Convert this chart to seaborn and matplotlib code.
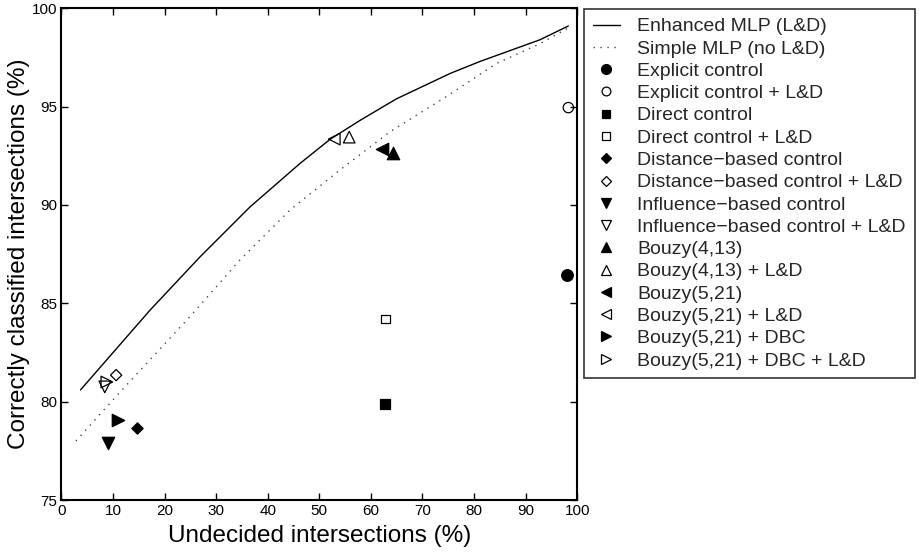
import matplotlib
matplotlib.use("Agg")
import matplotlib.pyplot as plt
import seaborn as sns
from matplotlib.lines import Line2D

# ---- data ----
enh_x = [3.7, 17.2, 26.9, 36.6, 46.3, 52.1, 57.9, 62.4, 65.0, 75.4, 81.2, 92.8, 98.3]
enh_y = [80.6, 84.66, 87.37, 89.91, 92.12, 93.34, 94.3, 95.0, 95.4, 96.69, 97.3, 98.4, 99.1]
simp_x = [2.8, 10.7, 24.9, 34.6, 44.3, 54.0, 63.7, 74.4, 84.4, 92.8, 98.3]
simp_y = [78.0, 80.3, 84.32, 87.2, 89.74, 91.78, 93.72, 95.47, 97.2, 98.2, 99.0]

labels = ["Explicit control", "Explicit control + L&D",
          "Direct control", "Direct control + L&D",
          "Distance\u2212based control", "Distance\u2212based control + L&D",
          "Influence\u2212based control", "Influence\u2212based control + L&D",
          "Bouzy(4,13)", "Bouzy(4,13) + L&D",
          "Bouzy(5,21)", "Bouzy(5,21) + L&D",
          "Bouzy(5,21) + DBC", "Bouzy(5,21) + DBC + L&D"]
pt_x = [98.0, 98.3, 62.8, 62.8, 14.6, 10.6, 9.1, 8.4, 64.2, 55.8, 62.1, 52.9, 11.0, 8.8]
pt_y = [86.45, 94.95, 79.9, 84.2, 78.65, 81.35, 77.9, 80.75, 92.65, 93.45, 92.85, 93.35, 79.05, 81.0]
markers = ["o", "o", "s", "s", "D", "D", "v", "v", "^", "^", "<", "<", ">", ">"]
filled = [True, False] * 7
sizes = [70, 55, 45, 40, 33, 33, 80, 70, 80, 70, 80, 70, 80, 70]

xticks = list(range(0, 101, 10))
yticks = [75, 80, 85, 90, 95, 100]

sns.set_theme(style="white")
plt.rcParams["font.family"] = ["Liberation Sans", "DejaVu Sans"]
plt.rcParams["xtick.direction"] = "in"
plt.rcParams["ytick.direction"] = "in"

fig = plt.figure(figsize=(9.19, 5.52), dpi=100)
ax = fig.add_axes([0.0669, 0.0942, 0.628 - 0.0669, 0.985 - 0.0942])

sns.lineplot(x=enh_x, y=enh_y, ax=ax, color="black", linewidth=1.0,
             sort=False, estimator=None, legend=False)
sns.lineplot(x=simp_x, y=simp_y, ax=ax, color="#444444", linewidth=1.0,
             linestyle=(0, (1, 4)), sort=False, estimator=None, legend=False)

handles = [Line2D([], [], color="black", lw=1.0),
           Line2D([], [], color="#444444", lw=1.0, linestyle=(0, (1, 4)))]
hlabels = ["Enhanced MLP (L&D)", "Simple MLP (no L&D)"]

for i in range(len(labels)):
    sns.scatterplot(x=[pt_x[i]], y=[pt_y[i]], ax=ax, marker=markers[i],
                    s=sizes[i], color="black", linewidth=0.9, legend=False,
                    zorder=3)
    coll = ax.collections[-1]
    coll.set_edgecolor("black")
    coll.set_facecolor("black" if filled[i] else "none")
    ms = (sizes[i] ** 0.5) * 0.85
    handles.append(Line2D([], [], linestyle="none", marker=markers[i],
                          markersize=ms, markeredgecolor="black",
                          markerfacecolor="black" if filled[i] else "none",
                          markeredgewidth=0.9))
    hlabels.append(labels[i])

ax.set_xlim(0, 100)
ax.set_ylim(75, 100)
ax.set_xticks(xticks)
ax.set_yticks(yticks)
ax.tick_params(axis="both", which="both", direction="in", length=5, width=1,
               top=True, right=True, bottom=True, left=True, labelsize=11,
               colors="black", pad=3)
for s in ax.spines.values():
    s.set_visible(True)
    s.set_color("black")
    s.set_linewidth(1.5)

ax.set_xlabel("Undecided intersections (%)", fontsize=17.5, color="black", labelpad=5)
ax.set_ylabel("Correctly classified intersections (%)", fontsize=17.5, color="black", labelpad=1)

leg = fig.legend(handles, hlabels, loc="upper left",
                 bbox_to_anchor=(584 / 919, 1 - 9 / 552),
                 bbox_transform=fig.transFigure, borderaxespad=0,
                 fontsize=14.0, frameon=True, fancybox=False,
                 edgecolor="black", handlelength=1.4, handletextpad=0.9,
                 labelspacing=0.24, borderpad=0.45)
leg.get_frame().set_linewidth(1.2)

fig.savefig("out.png", dpi=100, facecolor="white")
